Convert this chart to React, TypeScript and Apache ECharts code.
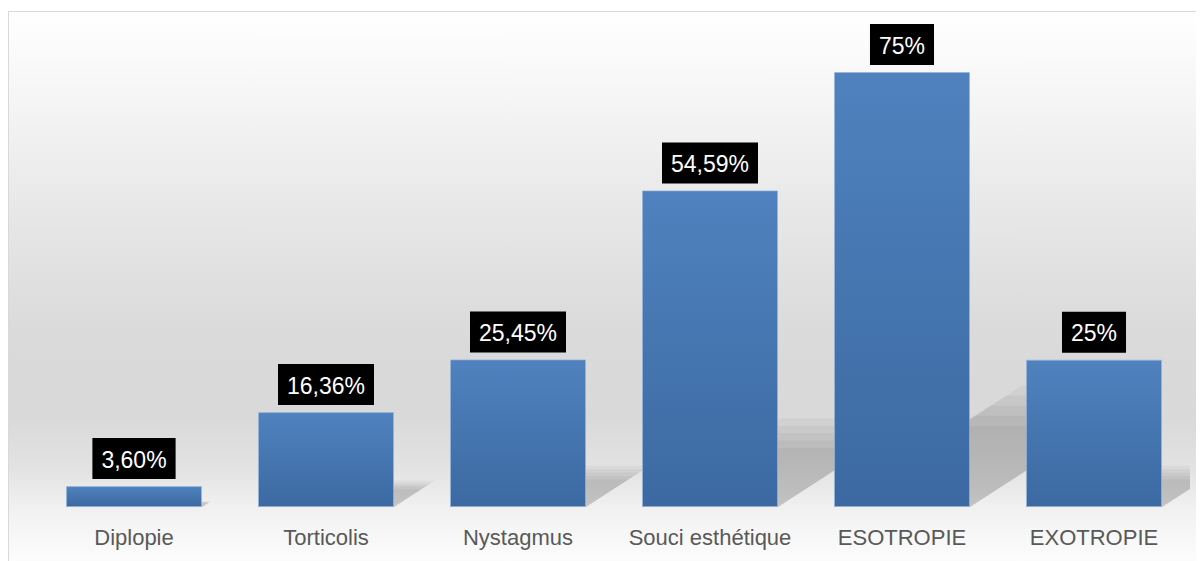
import React, { useEffect, useRef } from "react";
import * as echarts from "echarts";

const categories = ["Diplopie", "Torticolis", "Nystagmus", "Souci esthétique", "ESOTROPIE", "EXOTROPIE"];
const values = [3.6, 16.36, 25.45, 54.59, 75, 25.4];
const valueLabels = ["3,60%", "16,36%", "25,45%", "54,59%", "75%", "25%"];

const BAR_W = 136;

const bgStops: [number, string][] = [
  [0, "#ffffff"],
  [0.035, "#fdfdfd"],
  [0.16, "#f5f5f5"],
  [0.34, "#e9e9e9"],
  [0.585, "#dadada"],
  [0.74, "#d9d9d9"],
  [0.835, "#e3e3e3"],
  [0.91, "#f2f2f2"],
  [1, "#fcfcfc"],
];

const shadowLayers = [0.8, 0.9, 1.0, 1.1, 1.2];

export default function App() {
  const ref = useRef<HTMLDivElement>(null);
  useEffect(() => {
    if (!ref.current) return;
    const chart = echarts.init(ref.current, undefined, { renderer: "svg" });
    const font = "'Liberation Sans', Arial, sans-serif";
    const rectH = 650;
    const visH = 549.5;
    chart.setOption({
      animation: false,
      grid: { left: 30, width: 1152, top: 35, bottom: 54, containLabel: false },
      graphic: [
        {
          type: "rect",
          z: -10,
          silent: true,
          shape: { x: 0.5, y: 3.5, width: 1400, height: rectH },
          style: {
            fill: new echarts.graphic.LinearGradient(
              0,
              0,
              0,
              1,
              bgStops.map(([o, c]) => ({ offset: (o * visH) / rectH, color: c })).concat([{ offset: 1, color: "#ffffff" }])
            ),
            stroke: "#d9d9d9",
            lineWidth: 1,
          },
        },
      ],
      xAxis: {
        type: "category",
        data: categories,
        axisLine: { show: false },
        axisTick: { show: false },
        axisLabel: { color: "#595959", fontSize: 22, fontFamily: font, margin: 19, interval: 0 },
      },
      yAxis: {
        type: "value",
        min: 0,
        max: 80,
        show: false,
        splitLine: { show: false },
      },
      series: [
        {
          type: "custom",
          clip: true,
          z: 1,
          silent: true,
          data: values.map((v, i) => [i, v]),
          encode: { x: 0, y: 1 },
          renderItem: (params: any, api: any) => {
            const idx = api.value(0);
            const v = api.value(1);
            const top = api.coord([idx, v]);
            const base = api.coord([idx, 0]);
            const H = base[1] - top[1];
            const xL = base[0] - BAR_W / 2;
            const xR = base[0] + BAR_W / 2;
            const a = 0.233;
            const b = 0.36;
            return {
              type: "group",
              children: shadowLayers.map((f) => ({
                type: "polygon",
                shape: {
                  points: [
                    [xL, base[1]],
                    [xR, base[1]],
                    [xR + b * H * f, base[1] - a * H * f],
                    [xL + b * H * f, base[1] - a * H * f],
                  ],
                },
                style: { fill: "rgba(0,0,0,0.04)" },
              })),
            };
          },
        },
        {
          type: "bar",
          z: 3,
          data: values,
          barWidth: BAR_W,
          itemStyle: {
            color: new echarts.graphic.LinearGradient(0, 0, 0, 1, [
              { offset: 0, color: "#4f82be" },
              { offset: 1, color: "#3c69a1" },
            ]),
            borderColor: "rgba(150,180,220,0.7)",
            borderWidth: 1,
          },
          label: {
            show: true,
            position: "top",
            distance: 7,
            formatter: (p: any) => valueLabels[p.dataIndex],
            backgroundColor: "#000000",
            color: "#ffffff",
            fontSize: 23,
            fontFamily: font,
            lineHeight: 23,
            padding: [10, 9, 8, 9],
          },
        },
      ],
    });
    return () => chart.dispose();
  }, []);
  return <div ref={ref} style={{ width: 1196, height: 553 }} />;
}
